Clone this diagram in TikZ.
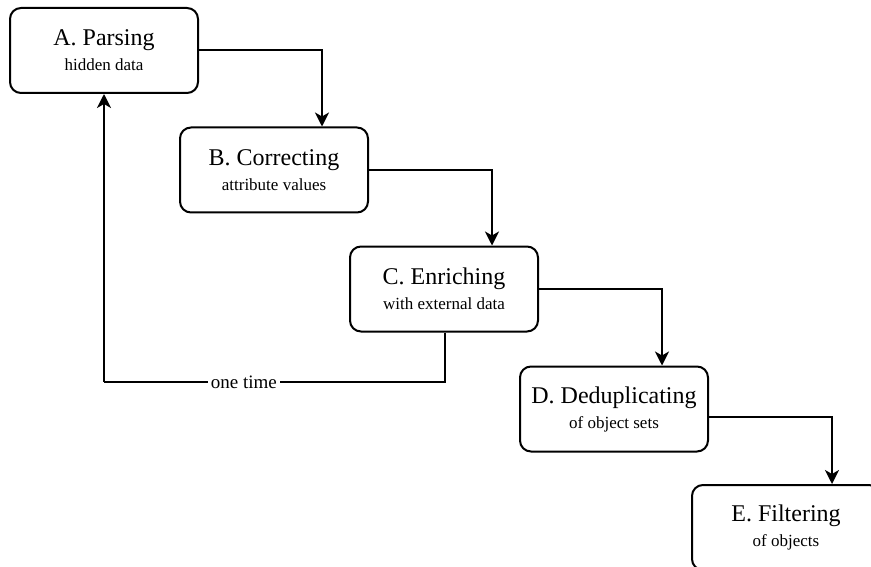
\documentclass[tikz,border=0pt]{standalone}
\usepackage{fontspec}
\setmainfont{LiberationSerif}[Extension=.ttf,UprightFont=*-Regular,BoldFont=*-Bold,ItalicFont=*-Italic,BoldItalicFont=*-BoldItalic]
\usetikzlibrary{arrows.meta,calc}
\begin{document}
\begin{tikzpicture}[x=1pt,y=-1pt,
  stepbox/.style={draw,line width=2pt,rounded corners=11pt,minimum width=188pt,minimum height=85pt,
    align=center,inner sep=0pt,font=\fontsize{17}{25}\selectfont},
  conn/.style={line width=2pt},
  arr/.style={conn,-{Stealth[length=14pt,width=14pt,inset=4pt]}}]
\useasboundingbox (0,0) rectangle (871,567);
\node[stepbox] (A) at (104,50.5) {{\fontsize{24}{25}\selectfont A. Parsing}\\hidden data};
\node[stepbox] (B) at (274,170) {{\fontsize{24}{25}\selectfont B. Correcting}\\attribute values};
\node[stepbox] (C) at (444,289) {{\fontsize{24}{25}\selectfont C. Enriching}\\with external data};
\node[stepbox] (D) at (614,409) {{\fontsize{24}{25}\selectfont D. Deduplicating}\\of object sets};
\node[stepbox] (E) at (786,527.5) {{\fontsize{24}{25}\selectfont E. Filtering}\\of objects};
\draw[arr] (A.east) -| ([xshift=48pt]B.north);
\draw[arr] (B.east) -| ([xshift=48pt]C.north);
\draw[arr] (C.east) -| ([xshift=48pt]D.north);
\draw[arr] ([yshift=-8pt]D.east) -| ([xshift=46pt]E.north);
\coordinate (lc) at (445,382);
\coordinate (la) at (104,382);
\draw[conn] (C.south -| lc) -- (lc) -- node[fill=white,inner sep=3pt,font=\fontsize{19}{20}\selectfont,pos=0.59] (lbl) {one time} (la);
\draw[arr] (la) -- (A.south);
\end{tikzpicture}
\end{document}
